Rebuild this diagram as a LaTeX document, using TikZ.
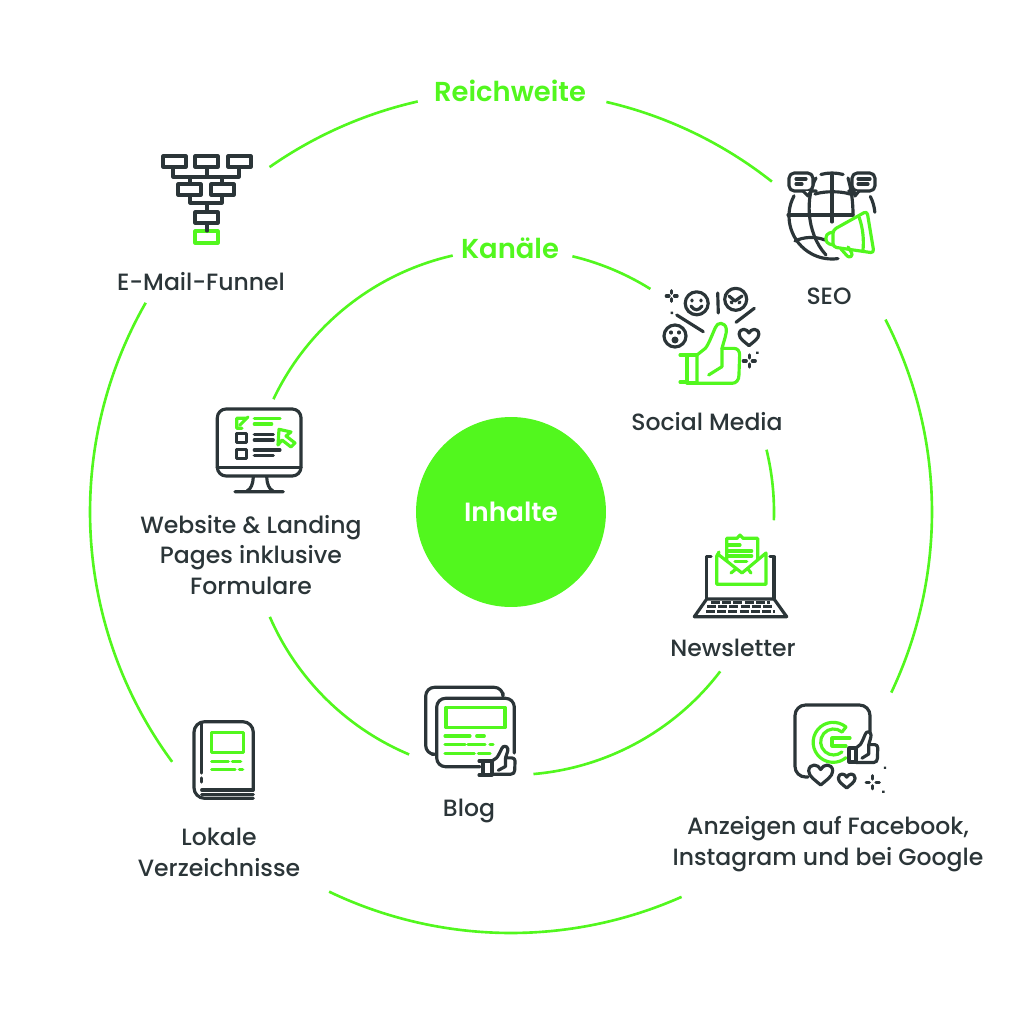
\documentclass[tikz,border=0pt]{standalone}
\usepackage{fontspec}
\setmainfont[UprightFont={* Medium},BoldFont={* SemiBold}]{Poppins}
\definecolor{leaf}{HTML}{52F71E}
\definecolor{ink}{HTML}{2B3538}
\tikzset{
  heartline/.pic={
    \draw[pic actions] (0,10) .. controls (-5,5.5) and (-12,1.5) .. (-12,-4) .. controls (-12,-8) and (-9,-10) .. (-6.5,-10)
      .. controls (-3.5,-10) and (-1.5,-8) .. (0,-5.5) .. controls (1.5,-8) and (3.5,-10) .. (6.5,-10)
      .. controls (9,-10) and (12,-8) .. (12,-4) .. controls (12,1.5) and (5,5.5) .. (0,10) -- cycle;
  },
  sparkle/.pic={
    \foreach \a in {0,90,180,270}
      \draw[pic actions] (\a:3) -- (\a:6);
  },
  thumbup/.pic={
    \draw[pic actions] (0,0) -- (25,-20) .. controls (35,-32) and (45,-60) .. (55,-82) .. controls (60,-100) and (85,-100) .. (88,-78)
      .. controls (90,-65) and (80,-40) .. (75,-20) -- (110,-20) .. controls (122,-20) and (128,-12) .. (128,0)
      -- (126,60) .. controls (126,75) and (118,85) .. (105,85) -- (0,85) -- cycle;
    \draw[pic actions] (75,-20) -- (75,35) -- (35,60);
  }
}
\begin{document}
\begin{tikzpicture}[
  x=0.02cm, y=-0.02cm,
  ring/.style={leaf, line width=1.5pt},
  dk/.style={ink, line width=1.8pt, line cap=round, line join=round},
  gn/.style={leaf, line width=1.8pt, line cap=round, line join=round},
  hub/.style={circle, fill=leaf, minimum size=3.8cm, inner sep=0pt, text=white, font=\fontsize{15}{18}\selectfont\bfseries},
  head/.style={text=leaf, font=\fontsize{15.6}{18}\selectfont\bfseries, inner sep=1pt},
  label/.style={text=ink, align=center, inner sep=1pt, font=\fontsize{13.4}{17.6}\selectfont}
]
\useasboundingbox (0,0) rectangle (1024,1024);
\node[hub] (inhalte) at (511,512) {Inhalte};
\node[head] (reichweite) at (510,91) {Reichweite};
\node[head] (kanaele) at (510,248) {Kanäle};
\node[label] (funnel) at (201,282) {E-Mail-Funnel};
\node[label] (seo) at (829,296) {SEO};
\node[label] (social) at (707,422) {Social Media};
\node[label] (website) at (251,555) {Website \& Landing\\Pages inklusive\\Formulare};
\node[label] (newsletter) at (733,648) {Newsletter};
\node[label] (blog) at (469,811) {Blog};
\node[label] (lokale) at (219,852) {Lokale\\Verzeichnisse};
\node[label] (anzeigen) at (828,844) {Anzeigen auf Facebook,\\Instagram und bei Google};

% outer and inner ring
\foreach \s/\e in {235/257.2, 283.1/308.3, 332.8/385.4, 66.1/115.6, 143.6/209.8}
  \draw[ring] ([shift={(inhalte.center)}]\s:421) arc[start angle=\s, end angle=\e, radius=421];
\foreach \s/\e in {205.4/257.2, 283.5/302, 346.3/361.8, 37.3/85.1, 112.8/156.5}
  \draw[ring] ([shift={(inhalte.center)}]\s:263) arc[start angle=\s, end angle=\e, radius=263];

% funnel
\foreach \x in {163,195,228}
  \draw[dk] (\x,156) rectangle ++(23,11);
\foreach \x in {178,211}
  \draw[dk] (\x,184) rectangle ++(23,11);
\draw[dk] (195,212) rectangle ++(23,11);
\draw[gn] (195,231) rectangle ++(23,12);
\draw[dk] (173,167) -- (173,177) -- (239,177) -- (239,167) (207,167) -- (207,177) (190,177) -- (190,184) (222,177) -- (222,184);
\draw[dk] (190,195) -- (190,203) -- (222,203) -- (222,195) (207,203) -- (207,212) (207,223) -- (207,231);

% globe with speech bubbles and megaphone
\draw[dk] ([shift={(832,216)}]208:43) arc[start angle=208, end angle=82, radius=43];
\draw[dk] ([shift={(832,216)}]255:43) arc[start angle=255, end angle=285, radius=43];
\draw[dk] ([shift={(832,216)}]333:43) arc[start angle=333, end angle=355, radius=43];
\draw[dk] (788,215) -- (853,215) (832,175) -- (832,222);
\draw[dk] (815,194) .. controls (825,191) and (840,191) .. (850,194);
\draw[dk] (816,178) .. controls (806,195) and (805,232) .. (826,255);
\draw[dk] (848,178) .. controls (851,188) and (853,200) .. (853,215);
\draw[dk] (795,241) .. controls (803,237) and (815,236) .. (825,240);
\draw[dk, fill=white, rounded corners=3pt] (803,191) -- (789,191) -- (789,173) -- (813,173) -- (813,191) -- (811,191) -- cycle;
\draw[dk, fill=white, rounded corners=3pt] (859,191) -- (875,191) -- (875,173) -- (852,173) -- (852,191) -- (854,191) -- cycle;
\draw[dk, fill=white] (803,191) -- (808,196) -- (811,191);
\draw[dk, fill=white] (854,191) -- (855,196) -- (859,191);
\draw[dk] (796,179) -- (806,179) (796,184) -- (802,184) (858,179) -- (870,179) (858,184) -- (868,184);
\draw[gn, fill=white, rounded corners=2pt] (833,230) -- (867,211) -- (874,253) -- (833,247) -- cycle;
\draw[gn] (859,217) .. controls (863,228) and (864,240) .. (863,250);
\draw[gn, rounded corners=2pt] (833,232) -- (826,234) -- (826,243) -- (833,245);
\draw[gn, rounded corners=1.5pt] (841,249) -- (849,258) -- (853,255) -- (848,247);

% social media
\draw[dk] (696.7,303.3) circle[radius=11.5] (735.7,299.3) circle[radius=11] (675,336) circle[radius=11];
\draw[dk] (692,300) -- (692,301) (701,300) -- (701,301) (691,306) .. controls (694,311) and (699,311) .. (702,306);
\draw[dk] (729,296) -- (735,301) -- (742,296) (731,302) -- (732,303) (739,303) -- (740,302);
\draw[dk] (671,332) -- (671,333) (679,332) -- (679,333);
\fill[ink] (675,340) circle[radius=3.5];
\draw[dk] (717.7,293) -- (718.3,313) (736,322.3) -- (754.3,308.3) (703.3,331.7) -- (676.7,315) (671.7,312.7) -- (672,313);
\pic[dk, scale=0.82] at (749,337.5) {heartline};
\pic[dk, scale=0.9] at (671.7,296) {sparkle};
\pic[dk, scale=1] at (749.3,361) {sparkle};
\draw[dk] (757.3,352.7) -- (757.4,352.8);
\draw[gn] (680,355) -- (687,355) (680,382) -- (687,382) (687,355) -- (687,383) -- (697,383) (687,355) -- (697,355);
\pic[gn, scale=0.333] at (697,355) {thumbup};

% website form on monitor
\draw[dk, rounded corners=5pt] (217.3,409) rectangle (301,476);
\draw[dk] (217.3,467.7) -- (301,467.7);
\draw[dk] (253.3,477) .. controls (253,484) and (251,489) .. (247,491) (266.7,477) .. controls (267,484) and (269,489) .. (273,491) (235,491.7) -- (283.3,491.7);
\draw[gn] (246.7,418.3) -- (236.7,418.3) -- (236.7,428.3) -- (242,428.3) (240,425) -- (248,417);
\draw[gn] (254.3,418.3) -- (280,418.3) (254.3,424) -- (271.7,424);
\draw[gn] (279,429.3) -- (291,432) -- (286,436) -- (295,443) -- (291,447) -- (282,440) -- (278,445) -- cycle;
\draw[dk] (236.7,433.3) rectangle (246.7,442.7) (236.7,449.3) rectangle (246.7,458.3);
\draw[dk] (254.3,434.3) -- (273.3,434.3) (254.3,440) -- (273.3,440) (254.3,450) -- (280,450) (254.3,455.7) -- (273.3,455.7);

% newsletter on laptop
\draw[dk] (711,556.7) -- (706.7,556.7) -- (706.7,599) (770,556.7) -- (774,556.7) -- (774,599);
\draw[dk] (706.7,599) -- (774,599) -- (786.7,616.7) -- (694.3,616.7) -- cycle;
\foreach \y/\a/\b in {602.7/711/770, 606.7/707/773, 611.7/706/775}
  \draw[ink, line width=1.7pt, dash pattern=on 5pt off 1.4pt] (\a,\y) -- (\b,\y);
\draw[gn] (726.7,561) -- (726.7,538.3) -- (737,538.3) -- (740,535) -- (743,538.3) -- (757.7,538.3) -- (757.7,559);
\draw[gn] (728.3,545) -- (740,545) (728.3,551) -- (751.7,551) (728.3,556) -- (751.7,556) (735,561.7) -- (746.7,561.7);
\draw[gn] (719,552) -- (716.7,556) -- (716.7,584.3) -- (766,584.3) -- (766,553) -- (742,573) -- (719,555) (731,573) -- (736,569) (748,569) -- (751,573);

% blog pages
\draw[dk, rounded corners=5pt] (431.7,754.3) -- (425.7,754.3) -- (425.7,687.3) -- (503,687.3) -- (503,693);
\draw[dk, rounded corners=5pt] (480,766.7) -- (436.7,766.7) -- (436.7,698.3) -- (514.3,698.3) -- (514.3,753);
\draw[gn] (446,707.3) rectangle (505,727.7);
\draw[gn] (445,736) -- (470,736) (476.7,736) -- (484.3,736) (445,744.3) -- (465,744.3) (468,744.3) -- (485,744.3) (490,744.3) -- (493,744.3) (445,753.3) -- (474.3,753.3) (478.3,753.3) -- (490,753.3);
\draw[dk] (479,761) -- (483,761) (479,775) -- (483,775);
\draw[dk] (483,761) rectangle (492,775);
\pic[dk, xscale=0.18, yscale=0.155] at (492,761) {thumbup};

% google ads
\draw[dk, rounded corners=6pt] (808,777) -- (795,777) -- (795,705) -- (870,705) -- (870,733);
\draw[gn] (846,727) arc[start angle=-50, end angle=-310, radius=20];
\draw[gn] (842,732) arc[start angle=-50, end angle=-310, radius=13];
\draw[gn] (842,732) -- (846,727);
\draw[gn] (850,738) -- (832,738) -- (832,746) -- (846,746);
\draw[dk] (849,748) rectangle (856,762);
\pic[dk, scale=0.17] at (856,748) {thumbup};
\pic[dk, scale=1] at (820.7,775) {heartline};
\pic[dk, scale=0.7] at (846.7,781) {heartline};
\pic[dk, scale=1.1] at (872.7,782.3) {sparkle};
\draw[dk] (885,767.7) -- (885.1,767.8) (883.3,791.7) -- (883.4,791.8);

% local directory book
\draw[dk, rounded corners=6pt] (253.3,790) -- (253.3,721.7) -- (194,721.7) -- (194,798.3) -- (253.3,798.3);
\draw[dk] (201.7,790) -- (253.3,790);
\draw[dk] (201.7,794.3) -- (253.3,794.3) (201.7,723) -- (201.7,773) (201.7,778) -- (201.7,782);
\draw[gn] (211.7,732.3) rectangle (243.3,752.7);
\draw[gn] (211.7,761.7) -- (228.3,761.7) (232.3,761.7) -- (240.7,761.7) (211.7,769.3) -- (235,769.3) (239.3,769.3) -- (242.7,769.3);
\end{tikzpicture}
\end{document}
